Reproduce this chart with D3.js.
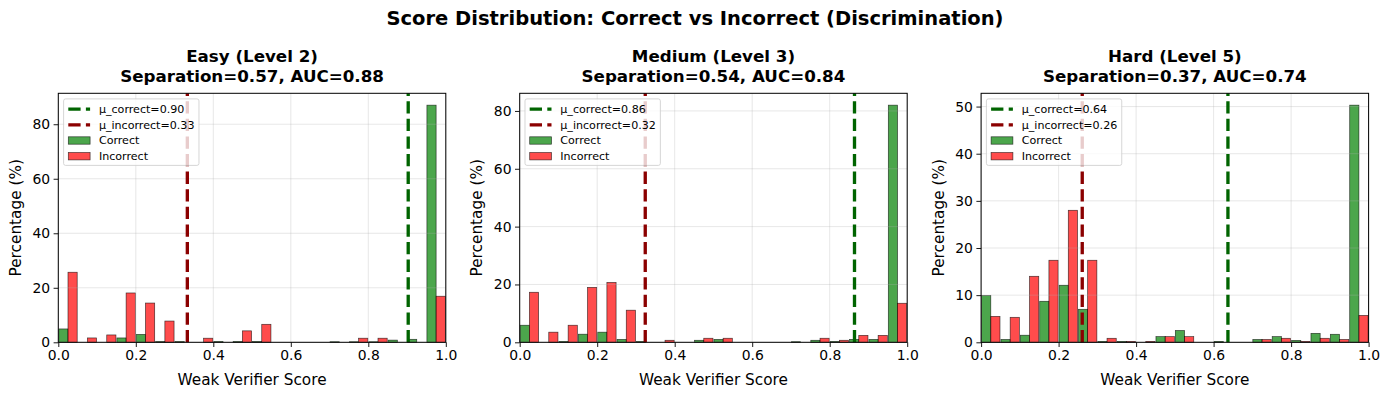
<!DOCTYPE html>
<html>
<head>
<meta charset="utf-8">
<script src="https://cdn.jsdelivr.net/npm/d3@7"></script>
<style>
  body { margin: 0; background: #fff; }
  text { font-family: "DejaVu Sans", sans-serif; }
</style>
</head>
<body>
<svg id="fig" width="1390" height="396"></svg>
<script>
// histogram bins (20 bins of width 0.05)
const binEdges = [0, 0.05, 0.1, 0.15, 0.2, 0.25, 0.3, 0.35, 0.4, 0.45, 0.5,
                  0.55, 0.6, 0.65, 0.7, 0.75, 0.8, 0.85, 0.9, 0.95, 1.0];
const xTicks = [0, 0.2, 0.4, 0.6, 0.8, 1.0];

const levelNames = ["Easy (Level 2)", "Medium (Level 3)", "Hard (Level 5)"];
const separations = [0.57, 0.54, 0.37];
const aucs = [0.88, 0.84, 0.74];
const meanCorrect = [0.903, 0.864, 0.637];
const meanIncorrect = [0.333, 0.324, 0.261];

// percentage per bin
const easyCorrect = [4.9, 0, 0, 1.6, 2.9, 0.3, 0.3, 0, 0.3, 0.3, 0.3, 0, 0, 0, 0.2, 0.2, 0.2, 0.8, 1.1, 87.0];
const easyIncorrect = [25.7, 1.6, 2.7, 18.1, 14.4, 7.8, 0, 1.5, 0, 4.2, 6.6, 0, 0, 0, 0, 1.5, 1.5, 0, 0, 16.9];
const mediumCorrect = [5.9, 0, 0.3, 2.8, 3.5, 1.0, 0.3, 0, 0, 0.7, 1.0, 0, 0, 0, 0.2, 0.7, 0.3, 1.0, 1.0, 82.0];
const mediumIncorrect = [17.3, 3.5, 5.9, 19.0, 20.7, 11.1, 0, 0.7, 0, 1.4, 1.4, 0, 0, 0, 0, 1.4, 0.7, 2.4, 2.4, 13.5];
const hardCorrect = [9.9, 0.6, 1.5, 8.7, 12.1, 7.0, 0.2, 0.2, 0, 1.2, 2.5, 0, 0.2, 0, 0.6, 1.2, 0.4, 1.9, 1.7, 50.3];
const hardIncorrect = [5.5, 5.3, 14.0, 17.4, 28.0, 17.4, 0.85, 0.2, 0.2, 1.2, 1.2, 0, 0, 0, 0.6, 0.85, 0.2, 0.85, 0.6, 5.7];

const correctSeries = [easyCorrect, mediumCorrect, hardCorrect];
const incorrectSeries = [easyIncorrect, mediumIncorrect, hardIncorrect];

const svg = d3.select('#fig');

svg.append('text')
  .attr('x', 695).attr('y', 25)
  .attr('text-anchor', 'middle')
  .style('font-size', '19.5px').style('font-weight', 'bold')
  .text('Score Distribution: Correct vs Incorrect (Discrimination)');

var margin = {left: 58.3, top: 93.3};
var pw = 387.5, ph = 249, step = 461.4;

var greenFill = 'rgba(0,128,0,0.7)', redFill = 'rgba(255,0,0,0.7)', barEdge = 'rgba(0,0,0,0.7)';

for (let p = 0; p < 3; p++) {
  const g = svg.append('g')
    .attr('transform', 'translate(' + (margin.left + p * step) + ',' + margin.top + ')');

  const series = [correctSeries[p], incorrectSeries[p]];
  const ymax = d3.max(series.flat()) * 1.05;

  const x = d3.scaleLinear().domain([0, 1]).range([0, pw]);
  const y = d3.scaleLinear().domain([0, ymax]).range([ph, 0]);

  // bars: two side-by-side bars per bin
  const bars = [];
  series.forEach(function(vals, s) {
    vals.forEach(function(v, i) {
      if (v > 0) bars.push({s: s, i: i, v: v});
    });
  });
  g.selectAll('rect.bar')
    .data(bars)
    .enter().append('rect')
    .attr('class', 'bar')
    .attr('x', function(d) {
      var bw = binEdges[d.i + 1] - binEdges[d.i];
      return x(binEdges[d.i] + bw * (0.025 + d.s * 0.475));
    })
    .attr('width', function(d) {
      var bw = binEdges[d.i + 1] - binEdges[d.i];
      return x(bw * 0.475) - x(0);
    })
    .attr('y', function(d) { return y(d.v); })
    .attr('height', function(d) { return ph - y(d.v); })
    .attr('fill', function(d) { return d.s === 0 ? greenFill : redFill; })
    .attr('stroke', barEdge)
    .attr('stroke-width', 0.7);

  // grid
  g.selectAll('line.gx')
    .data(xTicks)
    .enter().append('line')
    .attr('x1', d => x(d)).attr('x2', d => x(d))
    .attr('y1', 0).attr('y2', ph)
    .attr('stroke', '#b0b0b0').attr('stroke-opacity', 0.3).attr('stroke-width', 1);
  g.selectAll('line.gy')
    .data(y.ticks(5))
    .enter().append('line')
    .attr('x1', 0).attr('x2', pw)
    .attr('y1', d => y(d)).attr('y2', d => y(d))
    .attr('stroke', '#b0b0b0').attr('stroke-opacity', 0.3).attr('stroke-width', 1);

  // mean lines
  [[meanCorrect[p], '#006400'], [meanIncorrect[p], '#8b0000']].forEach(function(m) {
    g.append('line')
      .attr('x1', x(m[0])).attr('x2', x(m[0]))
      .attr('y1', ph).attr('y2', 0)
      .attr('stroke', m[1]).attr('stroke-width', 3.33)
      .attr('stroke-dasharray', '12.3,5.3');
  });

  // axes
  const xAxis = g.append('g')
    .attr('transform', 'translate(0,' + ph + ')')
    .call(d3.axisBottom(x).tickValues(xTicks).tickFormat(d3.format('.1f')).tickSize(4.7).tickPadding(3.5));
  const yAxis = g.append('g')
    .call(d3.axisLeft(y).ticks(5).tickSize(4.7).tickPadding(3.5));
  [xAxis, yAxis].forEach(function(a) {
    a.select('.domain').remove();
    a.selectAll('line').attr('stroke', '#000').attr('stroke-width', 0.9);
    a.selectAll('text').style('font-size', '13.9px').attr('fill', '#000')
      .style('font-family', '"DejaVu Sans", sans-serif');
  });

  g.append('rect')
    .attr('width', pw).attr('height', ph)
    .attr('fill', 'none').attr('stroke', '#000').attr('stroke-width', 1);

  // labels
  g.append('text')
    .attr('x', pw / 2).attr('y', ph + 42.5)
    .attr('text-anchor', 'middle')
    .style('font-size', '15.3px')
    .text('Weak Verifier Score');
  g.append('text')
    .attr('transform', 'translate(-37.5,' + (ph / 2) + ')rotate(-90)')
    .attr('text-anchor', 'middle')
    .style('font-size', '15.3px')
    .text('Percentage (%)');

  const title = g.append('text')
    .attr('text-anchor', 'middle')
    .style('font-size', '16.7px').style('font-weight', 'bold');
  title.append('tspan').attr('x', pw / 2).attr('y', -31.5)
    .text(levelNames[p]);
  title.append('tspan').attr('x', pw / 2).attr('y', -11.5)
    .text('Separation=' + separations[p].toFixed(2) + ', AUC=' + aucs[p].toFixed(2));

  // legend
  const lg = g.append('g').attr('transform', 'translate(5.3,5.6)');
  const frame = lg.append('rect')
    .attr('rx', 2).attr('ry', 2)
    .attr('fill', 'rgba(255,255,255,0.8)').attr('stroke', 'rgba(204,204,204,0.8)');
  const items = [
    {type: 'line', color: '#006400', label: 'μ_correct=' + meanCorrect[p].toFixed(2)},
    {type: 'line', color: '#8b0000', label: 'μ_incorrect=' + meanIncorrect[p].toFixed(2)},
    {type: 'patch', color: greenFill, label: 'Correct'},
    {type: 'patch', color: redFill, label: 'Incorrect'}
  ];
  let maxLen = 0;
  items.forEach(function(it, k) {
    const cy = 10.2 + k * 15.7;
    if (it.type === 'line') {
      lg.append('line')
        .attr('x1', 4.7).attr('x2', 26.5).attr('y1', cy).attr('y2', cy)
        .attr('stroke', it.color).attr('stroke-width', 3.33)
        .attr('stroke-dasharray', '12.3,5.3');
    } else {
      lg.append('rect')
        .attr('x', 4.7).attr('y', cy - 3.7).attr('width', 21.8).attr('height', 7.4)
        .attr('fill', it.color).attr('stroke', barEdge).attr('stroke-width', 0.7);
    }
    const t = lg.append('text')
      .attr('x', 35.3).attr('y', cy + 3.9)
      .style('font-size', '11.1px')
      .text(it.label);
    maxLen = Math.max(maxLen, t.node().getComputedTextLength());
  });
  frame.attr('width', 35.3 + maxLen + 4.5).attr('height', 66.5);
}
</script>
</body>
</html>
